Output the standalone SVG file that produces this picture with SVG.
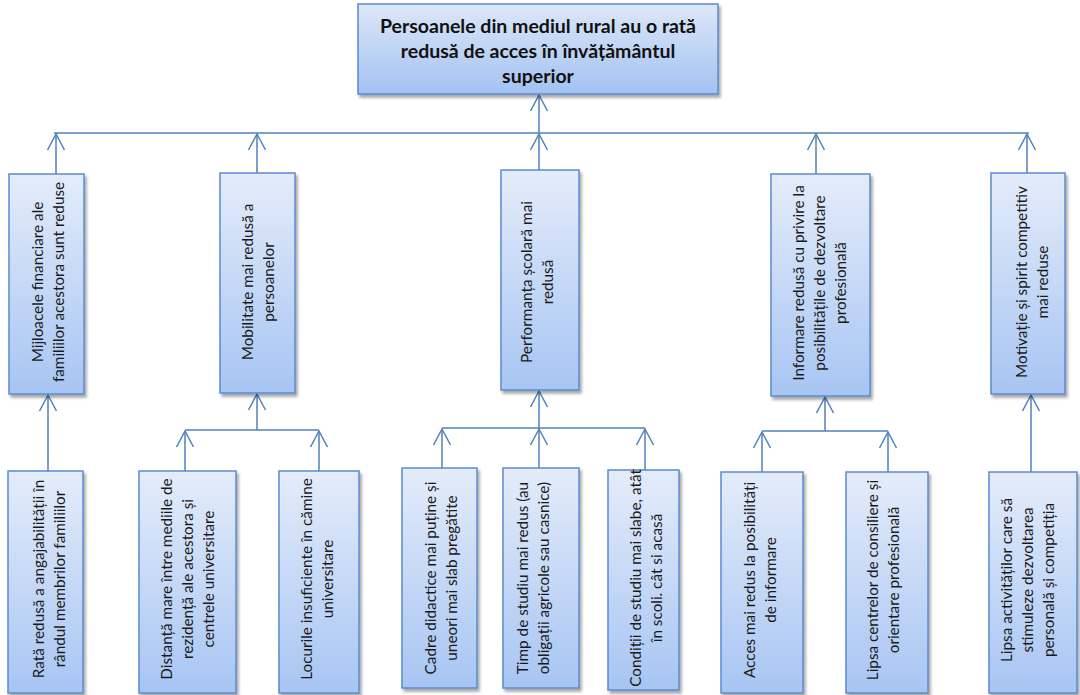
<svg xmlns="http://www.w3.org/2000/svg" width="1080" height="695" viewBox="0 0 1080 695">
<style>
.box{fill:url(#g);stroke:#5b8bd0;stroke-width:1.5;filter:url(#sh)}
.top{fill:url(#gt);stroke:#5b8bd0;stroke-width:1.5;filter:url(#sh)}
.t{font-family:Lato,"Liberation Sans",sans-serif;font-size:15.3px;fill:#1a1a1a;text-anchor:middle}
.tt{font-family:Lato,"Liberation Sans",sans-serif;font-size:19.5px;font-weight:bold;fill:#111;text-anchor:middle}
.c line{stroke:#4f81bd;stroke-width:1.5;fill:none}
.a{marker-end:url(#arr)}
</style>
<defs>
<linearGradient id="g" x1="0" y1="0" x2="0" y2="1">
<stop offset="0" stop-color="#e4ecfa"/><stop offset="1" stop-color="#a7c5f3"/>
</linearGradient>
<linearGradient id="gt" x1="0" y1="0" x2="0" y2="1">
<stop offset="0" stop-color="#dde7f8"/><stop offset="1" stop-color="#a3c2f2"/>
</linearGradient>
<filter id="sh" x="-10%" y="-10%" width="130%" height="130%">
<feDropShadow dx="2" dy="3" stdDeviation="1.5" flood-color="#000" flood-opacity="0.35"/>
</filter>
<marker id="arr" markerUnits="userSpaceOnUse" viewBox="-18 -10 20 20" markerWidth="20" markerHeight="20" refX="0" refY="0" orient="auto" overflow="visible">
<path d="M-16,-8.5 L0,0 L-16,8.5" fill="none" stroke="#4f81bd" stroke-width="1.5"/>
</marker>
<clipPath id="tc"><rect x="358" y="4" width="360" height="84"/></clipPath>
</defs>

<g id="connectors" class="c">
<line x1="54" y1="133" x2="1029" y2="133"/>
<line class="a" x1="539" y1="133" x2="539" y2="95"/>
<line class="a" x1="56" y1="174" x2="56" y2="134"/>
<line class="a" x1="257" y1="173" x2="257" y2="134"/>
<line class="a" x1="539" y1="170" x2="539" y2="134"/>
<line class="a" x1="816" y1="174" x2="816" y2="134"/>
<line class="a" x1="1027" y1="173" x2="1027" y2="134"/>
<line class="a" x1="48" y1="471" x2="48" y2="395"/>
<line x1="185" y1="430" x2="319" y2="430"/>
<line class="a" x1="257" y1="430" x2="257" y2="394"/>
<line class="a" x1="185" y1="471" x2="185" y2="431"/>
<line class="a" x1="319" y1="471" x2="319" y2="431"/>
<line x1="442" y1="428" x2="645" y2="428"/>
<line class="a" x1="539" y1="428" x2="539" y2="391"/>
<line class="a" x1="442" y1="468" x2="442" y2="429"/>
<line class="a" x1="539" y1="468" x2="539" y2="429"/>
<line class="a" x1="645" y1="470" x2="645" y2="429"/>
<line x1="762" y1="431" x2="888" y2="431"/>
<line class="a" x1="825" y1="431" x2="825" y2="397"/>
<line class="a" x1="762" y1="472" x2="762" y2="432"/>
<line class="a" x1="888" y1="472" x2="888" y2="432"/>
<line class="a" x1="1031" y1="472" x2="1031" y2="395"/>
</g>

<g id="root">
<rect class="top" x="358" y="4" width="360" height="90"/>
<text class="tt" clip-path="url(#tc)"><tspan x="538" y="33">Persoanele din mediul rural au o rată</tspan><tspan x="538" y="58">redusă de acces în învățământul</tspan><tspan x="538" y="83">superior</tspan></text>
</g>

<g id="m1">
<rect class="box" x="9" y="174" width="75" height="220"/>
<text class="t" transform="translate(48,282) rotate(-90)"><tspan x="0" y="-5.5">Mijloacele financiare ale</tspan><tspan x="0" y="15.5">familiilor acestora sunt reduse</tspan></text>
</g>
<g id="m2">
<rect class="box" x="220" y="173" width="75" height="220"/>
<text class="t" transform="translate(258,282) rotate(-90)"><tspan x="0" y="-5.5">Mobilitate mai redusă  a</tspan><tspan x="0" y="15.5">persoanelor</tspan></text>
</g>
<g id="m3">
<rect class="box" x="501" y="170" width="78" height="220"/>
<text class="t" transform="translate(537,282) rotate(-90)"><tspan x="0" y="-5.5">Performanța școlară mai</tspan><tspan x="0" y="15.5">redusă</tspan></text>
</g>
<g id="m4">
<rect class="box" x="771" y="174" width="99" height="222"/>
<text class="t" transform="translate(820,283) rotate(-90)"><tspan x="0" y="-16">Informare redusă cu privire la</tspan><tspan x="0" y="5">posibilitățile de dezvoltare</tspan><tspan x="0" y="26">profesională</tspan></text>
</g>
<g id="m5">
<rect class="box" x="991" y="173" width="74" height="221"/>
<text class="t" transform="translate(1032,282) rotate(-90)"><tspan x="0" y="-5.5">Motivație și spirit competitiv</tspan><tspan x="0" y="15.5">mai reduse</tspan></text>
</g>

<g id="b1">
<rect class="box" x="8" y="471" width="75" height="222"/>
<text class="t" transform="translate(49,579) rotate(-90)"><tspan x="0" y="-5.5">Rată redusă a angajabilității în</tspan><tspan x="0" y="15.5">rândul membrilor  familiilor</tspan></text>
</g>
<g id="b2">
<rect class="box" x="139" y="471" width="97" height="222"/>
<text class="t" transform="translate(188,579) rotate(-90)"><tspan x="0" y="-16">Distanță mare între mediile de</tspan><tspan x="0" y="5">rezidență ale acestora și</tspan><tspan x="0" y="26">centrele universitare</tspan></text>
</g>
<g id="b3">
<rect class="box" x="279" y="471" width="80" height="222"/>
<text class="t" transform="translate(317,579) rotate(-90)"><tspan x="0" y="-5.5">Locurile insuficiente în cămine</tspan><tspan x="0" y="15.5">universitare</tspan></text>
</g>
<g id="b4">
<rect class="box" x="402" y="468" width="75" height="220"/>
<text class="t" transform="translate(441,578) rotate(-90)"><tspan x="0" y="-5.5">Cadre didactice mai puține și</tspan><tspan x="0" y="15.5">uneori  mai slab pregătite</tspan></text>
</g>
<g id="b5">
<rect class="box" x="503" y="468" width="76" height="220"/>
<text class="t" transform="translate(533,578) rotate(-90)"><tspan x="0" y="-5.5">Timp de studiu mai redus  (au</tspan><tspan x="0" y="15.5">obligații agricole sau casnice)</tspan></text>
</g>
<g id="b6">
<rect class="box" x="608" y="470" width="71" height="220"/>
<text class="t" transform="translate(646,578) rotate(-90)"><tspan x="0" y="-5.5">Condiții de studiu mai slabe, atât</tspan><tspan x="0" y="15.5">în scoli. cât si acasă</tspan></text>
</g>
<g id="b7">
<rect class="box" x="721" y="472" width="82" height="221"/>
<text class="t" transform="translate(760,580) rotate(-90)"><tspan x="0" y="-5.5">Acces mai redus la posibilități</tspan><tspan x="0" y="15.5">de informare</tspan></text>
</g>
<g id="b8">
<rect class="box" x="846" y="472" width="82" height="221"/>
<text class="t" transform="translate(883,580) rotate(-90)"><tspan x="0" y="-5.5">Lipsa centrelor de consiliere și</tspan><tspan x="0" y="15.5">orientare profesională</tspan></text>
</g>
<g id="b9">
<rect class="box" x="989" y="472" width="88" height="221"/>
<text class="t" transform="translate(1028,580) rotate(-90)"><tspan x="0" y="-16">Lipsa activităților care să</tspan><tspan x="0" y="5">stimuleze dezvoltarea</tspan><tspan x="0" y="26">personală și competiția</tspan></text>
</g>
</svg>
